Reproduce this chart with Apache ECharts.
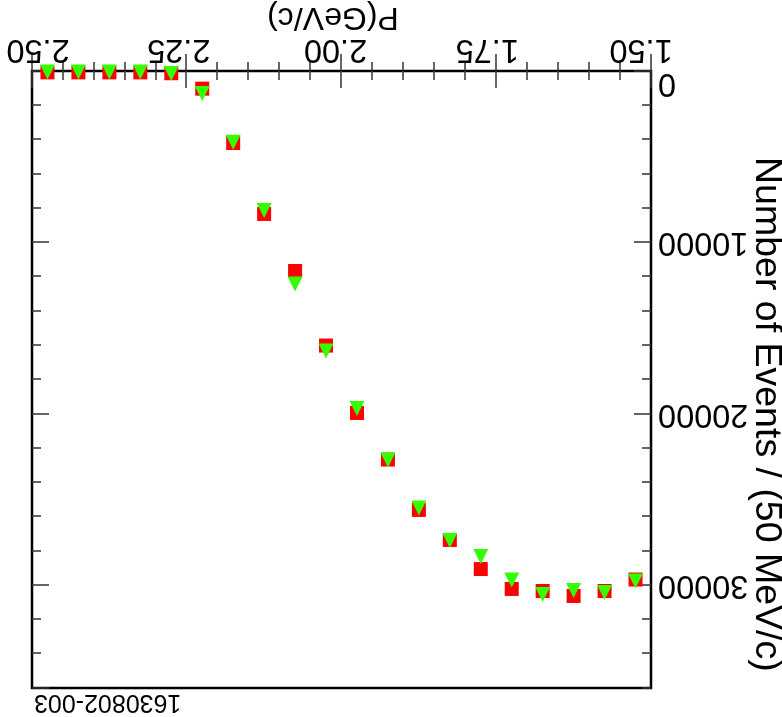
<!DOCTYPE html>
<html>
<head>
<meta charset="utf-8">
<script src="https://cdn.jsdelivr.net/npm/echarts@6/dist/echarts.min.js"></script>
<style>
  html, body { margin: 0; padding: 0; background: #fff; overflow: hidden; }
  /* the whole figure is presented turned half a revolution */
  #chart { width: 782px; height: 717px; transform: rotate(180deg); transform-origin: 50% 50%; }
</style>
</head>
<body>
<div id="chart"></div>
<script>
// Momentum bin centres, GeV/c (50 MeV/c bins)
const momentum = [1.525, 1.575, 1.625, 1.675, 1.725, 1.775, 1.825, 1.875, 1.925, 1.975,
                  2.025, 2.075, 2.125, 2.175, 2.225, 2.275, 2.325, 2.375, 2.425, 2.475];
// Events per bin, first sample (red squares)
const eventsRed = [29670, 30340, 30630, 30340, 30220, 29060, 27360, 25610, 22670, 19950,
                   16020, 11670, 8340, 4200, 1030, 130, 80, 80, 80, 80];
// Events per bin, second sample (green triangles)
const eventsGreen = [29760, 30430, 30310, 30540, 29700, 28330, 27390, 25500, 22700, 19690,
                     16340, 12430, 8140, 4150, 1320, 150, 60, 60, 60, 60];
// Tick labels
const xTickValues = [1.50, 1.75, 2.00, 2.25, 2.50];
const xTickLabels = ['1.50', '1.75', '2.00', '2.25', '2.50'];
const yTickValues = [0, 10000, 20000, 30000];
const yTickLabels = ['0', '10000', '20000', '30000'];
// Titles
const xTitle = 'P(GeV/c)';
const yTitle = 'Number of Events / (50 MeV/c)';
const plotTag = '1630802-003';

const FONT = '"Liberation Sans", Arial, Helvetica, sans-serif';
const INK = '#000';
const TICK_INK = '#333';
const LABEL_SIZE = 32.5;

// small horizontal nudges of the momentum labels (px)
const xLabelShift = [10, 9, 6, 8, -6];

function majorTick() { return { show: true, inside: true, length: 17, lineStyle: { color: TICK_INK, width: 1.5 } }; }
function minorTickStyle() { return { show: true, inside: true, length: 9, lineStyle: { color: TICK_INK, width: 1.5 } }; }

const xRich = {};
xLabelShift.forEach((s, i) => {
  xRich['l' + i] = {
    fontSize: LABEL_SIZE, fontFamily: FONT, color: INK,
    padding: s >= 0 ? [0, 0, 0, 2 * s] : [0, -2 * s, 0, 0]
  };
});

function xLabel(v) {
  const i = xTickValues.findIndex(t => Math.abs(t - v) < 1e-9);
  return i < 0 ? '' : '{l' + i + '|' + xTickLabels[i] + '}';
}
function yLabel(v) {
  const i = yTickValues.indexOf(v);
  if (i < 0) return '';
  return (v === 0 ? '{z|' : '{n|') + yTickLabels[i] + '}';
}

function xAxisDef(position, withLabels) {
  return {
    type: 'value', position: position, min: 1.5, max: 2.5, interval: 0.25,
    axisLine: { show: false },
    axisTick: majorTick(),
    minorTick: { show: true, splitNumber: 5, length: 9, lineStyle: { color: TICK_INK, width: 1.5 } },
    splitLine: { show: false }, minorSplitLine: { show: false },
    axisLabel: withLabels ? {
      show: true, margin: 6, fontSize: LABEL_SIZE, fontFamily: FONT, color: INK,
      formatter: xLabel, rich: xRich
    } : { show: false }
  };
}

function yAxisDef(position, step, tickStyle, withLabels) {
  return {
    type: 'value', position: position, min: 0, max: 36000, interval: step,
    axisLine: { show: false },
    axisTick: tickStyle,
    splitLine: { show: false },
    axisLabel: withLabels ? {
      show: true, margin: 7, fontSize: LABEL_SIZE, fontFamily: FONT, color: INK,
      showMaxLabel: false,
      formatter: yLabel,
      rich: {
        n: { fontSize: LABEL_SIZE, fontFamily: FONT, color: INK },
        z: { fontSize: LABEL_SIZE, fontFamily: FONT, color: INK, padding: [0, 0, 24, 0] }
      }
    } : { show: false }
  };
}

const chart = echarts.init(document.getElementById('chart'), null, { renderer: 'canvas' });
chart.setOption({
  animation: false,
  backgroundColor: '#fff',
  grid: {
    left: 131, right: 32, top: 29, bottom: 71,
    show: true, borderColor: INK, borderWidth: 2.5, backgroundColor: 'transparent',
    containLabel: false, outerBoundsMode: 'none'
  },
  xAxis: [xAxisDef('bottom', true), xAxisDef('top', false)],
  yAxis: [
    yAxisDef('left', 2000, minorTickStyle(), false),
    yAxisDef('left', 10000, majorTick(), true),
    yAxisDef('right', 2000, minorTickStyle(), false),
    yAxisDef('right', 10000, majorTick(), false)
  ],
  series: [
    {
      type: 'scatter', xAxisIndex: 0, yAxisIndex: 0, clip: false,
      symbol: 'rect', symbolSize: 14,
      itemStyle: { color: '#ff0000', opacity: 1 },
      data: momentum.map((p, i) => [p, eventsRed[i]])
    },
    {
      type: 'scatter', xAxisIndex: 0, yAxisIndex: 0, clip: false,
      symbol: 'triangle', symbolSize: [15, 15],
      itemStyle: { color: '#33ff00', opacity: 1 },
      data: momentum.map((p, i) => [p, eventsGreen[i]])
    }
  ],
  graphic: [
    {
      type: 'text', x: 449, y: 700,
      style: { text: xTitle, font: '32px ' + FONT, fill: INK,
               textAlign: 'center', textVerticalAlign: 'middle', align: 'center', verticalAlign: 'middle' }
    },
    {
      type: 'text', x: 16, y: 560, rotation: Math.PI / 2,
      style: { text: yTitle, font: '37.5px ' + FONT, fill: INK,
               textAlign: 'left', textVerticalAlign: 'middle', align: 'left', verticalAlign: 'middle' }
    },
    {
      type: 'text', x: 748, y: 15,
      style: { text: plotTag, font: '25px ' + FONT, fill: INK,
               textAlign: 'right', textVerticalAlign: 'middle', align: 'right', verticalAlign: 'middle' }
    }
  ]
});
</script>
</body>
</html>
